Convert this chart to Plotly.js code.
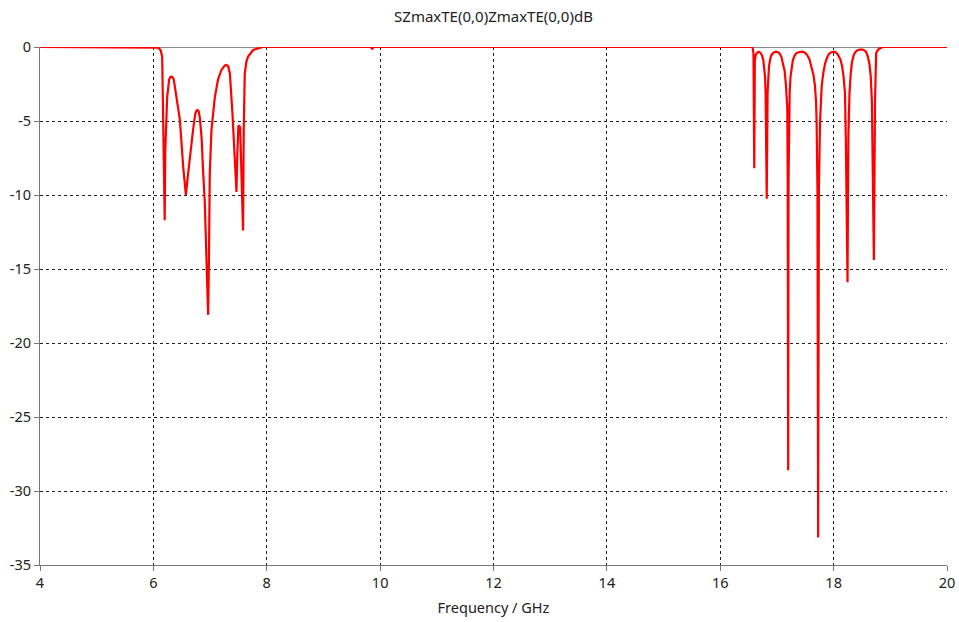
<!DOCTYPE html>
<html>
<head>
<meta charset="utf-8">
<script src="https://cdn.plot.ly/plotly-3.0.1.min.js"></script>
<style>html,body{margin:0;padding:0;background:#fff;}#chart{width:959px;height:622px;}</style>
</head>
<body>
<div id="chart"></div>
<script>
// Frequency (GHz) and S-parameter magnitude (dB)
const freq = [
  4.0, 6.0, 6.08, 6.127, 6.155, 6.165, 6.173, 6.185, 6.20, 6.21, 6.22, 6.243, 6.278, 6.30, 6.32, 6.34, 6.36, 6.41,
  6.467, 6.526, 6.573, 6.60, 6.643, 6.70, 6.74, 6.76, 6.78, 6.80, 6.82, 6.85, 6.877, 6.907, 6.937, 6.966,
  6.98, 6.995, 7.025, 7.084, 7.14, 7.20, 7.26, 7.29, 7.32, 7.35, 7.395, 7.436, 7.466, 7.48, 7.50, 7.53,
  7.55, 7.582, 7.594, 7.612, 7.64, 7.67, 7.76, 7.93,
  9.84, 9.86, 9.88,
  16.57, 16.586, 16.60, 16.61, 16.625, 16.645, 16.675, 16.705, 16.735, 16.76, 16.775, 16.79, 16.80, 16.82,
  16.835, 16.845, 16.86, 16.88, 16.90, 16.94, 16.98, 17.02, 17.05, 17.08, 17.11, 17.135, 17.155, 17.172, 17.183, 17.19, 17.198,
  17.205, 17.215, 17.225, 17.24, 17.26, 17.28, 17.31, 17.34, 17.39, 17.45, 17.50, 17.535, 17.575, 17.61, 17.645, 17.67, 17.69, 17.70, 17.715, 17.727,
  17.74, 17.76, 17.775, 17.79, 17.82, 17.85, 17.885, 17.92, 17.96, 18.01, 18.05, 18.08, 18.12, 18.15, 18.175, 18.20, 18.215, 18.227, 18.245,
  18.26, 18.27, 18.28, 18.30, 18.32, 18.35, 18.38, 18.43, 18.49, 18.53, 18.57, 18.60, 18.63, 18.655, 18.675, 18.71,
  18.73, 18.75, 18.78, 18.81, 18.87, 20.0
];
const s11dB = [
  0, 0, -0.05, -0.2, -0.65, -3.0, -5.5, -8.1, -11.7, -7.0, -5.5, -3.4, -2.2, -2.02, -2.0, -2.05, -2.2, -3.4,
  -4.9, -8.1, -10.0, -9.0, -7.4, -5.6, -4.5, -4.3, -4.25, -4.35, -4.8, -6.1, -8.4, -10.5, -14.4, -18.1,
  -14.4, -8.5, -5.6, -3.4, -2.2, -1.55, -1.25, -1.22, -1.3, -1.8, -4.5, -7.4, -9.8, -7.4, -5.3, -5.4,
  -9.0, -12.4, -5.6, -1.8, -1.0, -0.65, -0.2, 0,
  0, -0.15, 0,
  0, -0.43, -8.2, -0.9, -0.55, -0.4, -0.32, -0.38, -0.55, -0.9, -1.3, -2.0, -3.1, -10.25,
  -3.1, -2.0, -1.3, -0.85, -0.55, -0.38, -0.32, -0.36, -0.45, -0.7, -1.1, -1.6, -2.4, -3.2, -4.1, -8.8, -28.6,
  -8.8, -4.2, -3.0, -2.0, -1.35, -0.9, -0.6, -0.43, -0.34, -0.32, -0.4, -0.55, -0.85, -1.3, -1.9, -2.6, -3.7, -5.1, -9.7, -33.15,
  -9.7, -5.1, -3.6, -2.6, -1.7, -1.1, -0.7, -0.45, -0.35, -0.32, -0.4, -0.55, -0.85, -1.3, -2.0, -3.1, -6.1, -12.8, -15.9,
  -6.1, -4.2, -3.1, -1.9, -1.1, -0.6, -0.35, -0.2, -0.16, -0.2, -0.32, -0.6, -1.1, -2.0, -3.7, -14.4,
  -3.7, -0.43, -0.2, -0.1, 0, 0
];
const xTicks = [4, 6, 8, 10, 12, 14, 16, 18, 20];
const yTicks = [0, -5, -10, -15, -20, -25, -30, -35];
const titleText = 'SZmaxTE(0,0)ZmaxTE(0,0)dB';
const xTitle = 'Frequency / GHz';

const fnt = {family: 'Noto Sans, DejaVu Sans, sans-serif', size: 14.5, color: '#222'};
const tfnt = {family: 'Noto Sans, DejaVu Sans, sans-serif', size: 15, color: '#222'};

Plotly.newPlot('chart', [{
  x: freq, y: s11dB, type: 'scatter', mode: 'lines',
  line: {color: '#ff0000', width: 2.2}, hoverinfo: 'skip'
}], {
  width: 959, height: 622,
  margin: {l: 40, r: 12, t: 47, b: 57, pad: 0},
  paper_bgcolor: '#fff', plot_bgcolor: '#fff',
  showlegend: false,
  font: fnt,
  title: {text: titleText, font: tfnt, x: (40 + 947) / 2 / 959, xanchor: 'center', y: 1 - 17 / 622, yanchor: 'middle'},
  xaxis: {
    range: [4, 20], tickvals: xTicks, ticktext: xTicks.map(String),
    showgrid: true, gridcolor: '#222', griddash: '3px,3px', gridwidth: 1,
    zeroline: false, showline: true, linecolor: '#777', linewidth: 1,
    ticks: 'outside', ticklen: 5, tickcolor: '#777', tickfont: fnt,
    title: {text: xTitle, font: fnt, standoff: 11}
  },
  yaxis: {
    range: [-35, 0], tickvals: yTicks, ticktext: yTicks.map(String),
    showgrid: true, gridcolor: '#222', griddash: '3px,3px', gridwidth: 1,
    zeroline: true, zerolinecolor: '#888', zerolinewidth: 1,
    showline: true, linecolor: '#777', linewidth: 1,
    ticks: 'outside', ticklen: 5, tickcolor: '#777', tickfont: fnt
  }
}, {staticPlot: true, displayModeBar: false});
</script>
</body>
</html>
